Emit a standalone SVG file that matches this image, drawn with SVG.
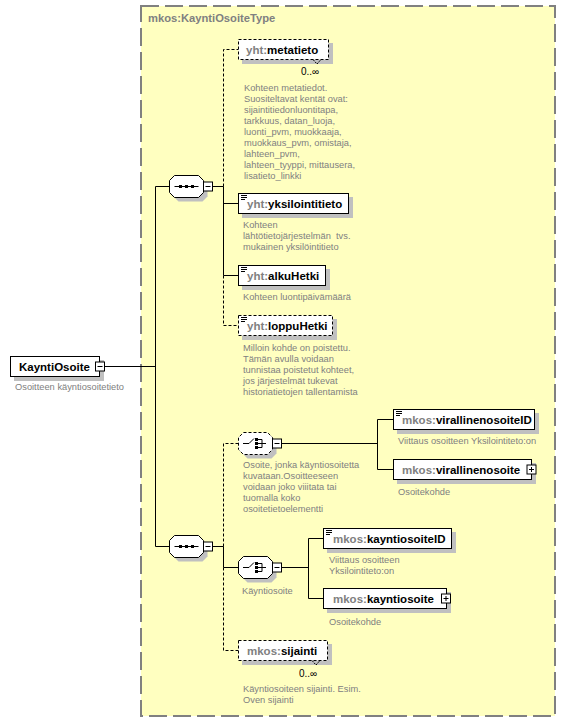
<svg xmlns="http://www.w3.org/2000/svg" width="566" height="722" viewBox="0 0 566 722">
<style>
.lbl{font-family:"Liberation Sans",Arial,sans-serif;font-size:11.5px;font-weight:bold;fill:#000}
.ns{fill:#808080}
.ttl{font-family:"Liberation Sans",Arial,sans-serif;font-size:11.2px;font-weight:bold;fill:#808080}
.desc{font-family:"Liberation Sans",Arial,sans-serif;font-size:9.3px;fill:#808080}
.mult{font-family:"Liberation Sans",Arial,sans-serif;font-size:10px;fill:#000}
.box{fill:#fff;stroke:#000;stroke-width:1}
.opt{stroke-dasharray:3,2}
.shd{fill:#C0C0C0}
.ln{stroke:#000;stroke-width:1;fill:none}
.dl{stroke-dasharray:3,2}
.ic{fill:#000}
</style>
<defs>
<g id="seqicon">
<line x1="-12" y1="0" x2="12" y2="0" stroke="#000" stroke-width="1"/>
<rect x="-7.5" y="-1.5" width="3" height="3" fill="#000"/>
<rect x="-1.5" y="-1.5" width="3" height="3" fill="#000"/>
<rect x="4.5" y="-1.5" width="3" height="3" fill="#000"/>
</g>
<g id="choiceicon">
<path d="M-12 0H-6L-1 -5" stroke="#000" stroke-width="1" fill="none"/>
<rect x="0" y="-5.5" width="3" height="3" fill="#000"/>
<rect x="0" y="-1.5" width="3" height="3" fill="#000"/>
<rect x="0" y="2.5" width="3" height="3" fill="#000"/>
<path d="M3 -4H7V4H3M3 0H11" stroke="#000" stroke-width="1" fill="none"/>
</g>
<g id="docicon">
<path d="M2 1.5H8M2 3.5H8M2 5.5H6" stroke="#000" stroke-width="1"/>
</g>
<g id="minus">
<rect x="0" y="0" width="9" height="9" fill="#fff" stroke="#000"/>
<line x1="2" y1="4.5" x2="7" y2="4.5" stroke="#000"/>
</g>
<g id="plus">
<rect x="0" y="0" width="9" height="9" fill="#fff" stroke="#000"/>
<line x1="2" y1="4.5" x2="7" y2="4.5" stroke="#000"/>
<line x1="4.5" y1="2" x2="4.5" y2="7" stroke="#000"/>
</g>
<path id="oct" d="M5 0H29L34 5V17L29 22H5L0 17V5Z"/>
</defs>

<rect width="566" height="722" fill="#fff"/>

<g id="KayntiOsoiteType">
<rect x="141" y="6" width="414" height="710" fill="#FFFFC0" stroke="#808080" stroke-width="2" stroke-dasharray="18,6"/>
<text class="ttl" x="148" y="22">mkos:KayntiOsoiteType</text>
</g>

<g id="connectors">
<path class="ln" d="M104.5 366.5H155.5M155.5 186.5V546.5M155.5 186.5H169.5M155.5 546.5H169.5"/>
<path class="ln" d="M212.5 186.5H223.5M223.5 186.5V275.5M223.5 203.5H238.5M223.5 275.5H238.5"/>
<path class="ln dl" d="M223.5 186.5V49.5H238.5M223.5 275.5V325.5H238.5"/>
<path class="ln" d="M212.5 546.5H223.5M223.5 546.5V567.5H238.5"/>
<path class="ln dl" d="M223.5 546.5V443.5H238.5M223.5 567.5V650.5H238.5"/>
<path class="ln" d="M281.5 443.5H377.5M377.5 419.5V469.5M377.5 419.5H393.5M377.5 469.5H393.5"/>
<path class="ln" d="M281.5 567.5H308.5M308.5 538.5V598.5M308.5 538.5H323.5M308.5 598.5H323.5"/>
</g>

<g id="KayntiOsoite">
<rect class="shd" x="14" y="360" width="90" height="21"/>
<rect class="box" x="10.5" y="356.5" width="89" height="20"/>
<text class="lbl" x="19" y="371">KayntiOsoite</text>
<use href="#minus" x="95.5" y="362"/>
<text class="desc" x="15" y="390">Osoitteen käyntiosoitetieto</text>
</g>

<g id="sequence1">
<use href="#oct" x="173.5" y="179.5" class="shd"/>
<use href="#oct" x="169.5" y="175.5" fill="#fff" stroke="#000"/>
<use href="#seqicon" x="186.5" y="186.5"/>
<use href="#minus" x="203.5" y="182"/>
</g>

<g id="metatieto">
<rect class="shd" x="242" y="43" width="91" height="21"/>
<rect class="box opt" x="238.5" y="39.5" width="90" height="20"/>
<path d="M313 59.5L317 64L321 59.5" stroke="#000" stroke-width="1" fill="none" stroke-dasharray="2,1"/>
<text class="lbl" x="246" y="54"><tspan class="ns">yht:</tspan>metatieto</text>
<text class="mult" x="301" y="75">0..∞</text>
<text class="desc" x="244"><tspan x="244" y="90.5">Kohteen metatiedot.</tspan><tspan x="244" y="101.5">Suositeltavat kentät ovat:</tspan><tspan x="244" y="112.5">sijaintitiedonluontitapa,</tspan><tspan x="244" y="123.5">tarkkuus, datan_luoja,</tspan><tspan x="244" y="134.5">luonti_pvm, muokkaaja,</tspan><tspan x="244" y="145.5">muokkaus_pvm, omistaja,</tspan><tspan x="244" y="156.5">lahteen_pvm,</tspan><tspan x="244" y="167.5">lahteen_tyyppi, mittausera,</tspan><tspan x="244" y="178.5">lisatieto_linkki</tspan></text>
</g>

<g id="yksilointitieto">
<rect class="shd" x="242" y="197" width="111" height="21"/>
<rect class="box" x="238.5" y="193.5" width="110" height="20"/>
<use href="#docicon" x="239" y="194"/>
<text class="lbl" x="247" y="208"><tspan class="ns">yht:</tspan>yksilointitieto</text>
<text class="desc" style="white-space:pre"><tspan x="243" y="228">Kohteen</tspan><tspan x="243" y="239">lähtötietojärjestelmän  tvs.</tspan><tspan x="243" y="250">mukainen yksilöintitieto</tspan></text>
</g>

<g id="alkuHetki">
<rect class="shd" x="242" y="269" width="88" height="21"/>
<rect class="box" x="238.5" y="265.5" width="87" height="20"/>
<use href="#docicon" x="239" y="266"/>
<text class="lbl" x="247" y="280"><tspan class="ns">yht:</tspan>alkuHetki</text>
<text class="desc" x="243" y="300">Kohteen luontipäivämäärä</text>
</g>

<g id="loppuHetki">
<rect class="shd" x="242" y="319" width="95" height="21"/>
<rect class="box opt" x="238.5" y="315.5" width="94" height="20"/>
<use href="#docicon" x="239" y="316"/>
<text class="lbl" x="247" y="330"><tspan class="ns">yht:</tspan>loppuHetki</text>
<text class="desc"><tspan x="243" y="350.5">Milloin kohde on poistettu.</tspan><tspan x="243" y="361.5">Tämän avulla voidaan</tspan><tspan x="243" y="372.5">tunnistaa poistetut kohteet,</tspan><tspan x="243" y="383.5">jos järjestelmät tukevat</tspan><tspan x="243" y="394.5">historiatietojen tallentamista</tspan></text>
</g>

<g id="sequence2">
<use href="#oct" x="173.5" y="539.5" class="shd"/>
<use href="#oct" x="169.5" y="535.5" fill="#fff" stroke="#000"/>
<use href="#seqicon" x="186.5" y="546.5"/>
<use href="#minus" x="203.5" y="542"/>
</g>

<g id="choice1">
<use href="#oct" x="242.5" y="436.5" class="shd"/>
<use href="#oct" x="238.5" y="432.5" fill="#fff" stroke="#000" stroke-dasharray="3,2"/>
<use href="#choiceicon" x="255" y="443.5"/>
<use href="#minus" x="272.5" y="439"/>
<text class="desc"><tspan x="243" y="468">Osoite, jonka käyntiosoitetta</tspan><tspan x="243" y="479">kuvataan.Osoitteeseen</tspan><tspan x="243" y="490">voidaan joko viiitata tai</tspan><tspan x="243" y="501">tuomalla koko</tspan><tspan x="243" y="512">osoitetietoelementti</tspan></text>
</g>

<g id="virallinenosoiteID">
<rect class="shd" x="397" y="413" width="142" height="21"/>
<rect class="box" x="393.5" y="409.5" width="141" height="20"/>
<use href="#docicon" x="394" y="410"/>
<text class="lbl" x="402" y="424"><tspan class="ns">mkos:</tspan>virallinenosoiteID</text>
<text class="desc" x="398" y="444">Viittaus osoitteen Yksilointiteto:on</text>
</g>

<g id="virallinenosoite">
<rect class="shd" x="397" y="463" width="139" height="21"/>
<rect class="box" x="393.5" y="459.5" width="138" height="20"/>
<use href="#plus" x="527" y="465"/>
<text class="lbl" x="402" y="474"><tspan class="ns">mkos:</tspan>virallinenosoite</text>
<text class="desc" x="398" y="495">Osoitekohde</text>
</g>

<g id="choice2">
<use href="#oct" x="242.5" y="560.5" class="shd"/>
<use href="#oct" x="238.5" y="556.5" fill="#fff" stroke="#000"/>
<use href="#choiceicon" x="255" y="567.5"/>
<use href="#minus" x="272.5" y="563"/>
<text class="desc" x="242" y="594">Käyntiosoite</text>
</g>

<g id="kayntiosoiteID">
<rect class="shd" x="327" y="532" width="129" height="21"/>
<rect class="box" x="323.5" y="528.5" width="128" height="20"/>
<use href="#docicon" x="324" y="529"/>
<text class="lbl" x="333" y="543"><tspan class="ns">mkos:</tspan>kayntiosoiteID</text>
<text class="desc"><tspan x="329" y="563">Viittaus osoitteen</tspan><tspan x="329" y="574">Yksilointiteto:on</tspan></text>
</g>

<g id="kayntiosoite">
<rect class="shd" x="327" y="592" width="124" height="21"/>
<rect class="box" x="323.5" y="588.5" width="123" height="20"/>
<use href="#plus" x="441.5" y="594"/>
<text class="lbl" x="333" y="603"><tspan class="ns">mkos:</tspan>kayntiosoite</text>
<text class="desc" x="329" y="625">Osoitekohde</text>
</g>

<g id="sijainti">
<rect class="shd" x="242" y="644" width="90" height="21"/>
<rect class="box opt" x="238.5" y="640.5" width="89" height="20"/>
<path d="M312 660.5L316 665L320 660.5" stroke="#000" stroke-width="1" fill="none" stroke-dasharray="2,1"/>
<text class="lbl" x="247" y="655"><tspan class="ns">mkos:</tspan>sijainti</text>
<text class="mult" x="299" y="677">0..∞</text>
<text class="desc"><tspan x="243" y="692">Käyntiosoiteen sijainti. Esim.</tspan><tspan x="243" y="703">Oven sijainti</tspan></text>
</g>
</svg>
